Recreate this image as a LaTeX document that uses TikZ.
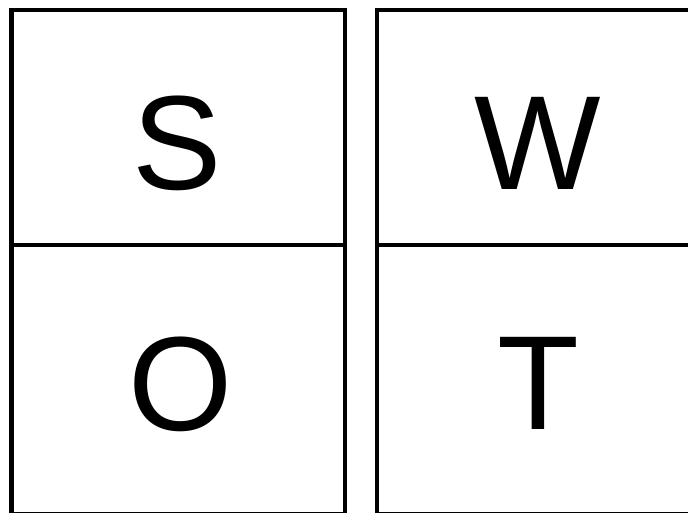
\documentclass[tikz,border=0pt]{standalone}
\usepackage{fontspec}
\setmainfont{Liberation Sans}
\begin{document}
\begin{tikzpicture}[x=1pt,y=-1pt,
  cell/.style={draw=black,line width=4.5pt,minimum width=333.5pt,inner sep=0pt,outer sep=0pt},
  letter/.style={anchor=base,inner sep=0pt,font=\fontsize{134}{134}\selectfont}]
\useasboundingbox (0,0) rectangle (688,513);
\clip (0,0) rectangle (688,513);
\node[cell,minimum height=235pt] (sbox) at (178.25,127.5) {};
\node[cell,minimum height=269pt] (obox) at (178.25,379.5) {};
\node[cell,minimum width=322pt,minimum height=235pt] (wbox) at (538,127.5) {};
\node[cell,minimum width=322pt,minimum height=269pt] (tbox) at (538,379.5) {};
\node[letter] (s) at (177.5,190) {S};
\node[letter] (w) at (537.5,190) {W};
\node[letter] (o) at (180.5,430) {O};
\node[letter] (t) at (538.5,429) {T};
\end{tikzpicture}
\end{document}
